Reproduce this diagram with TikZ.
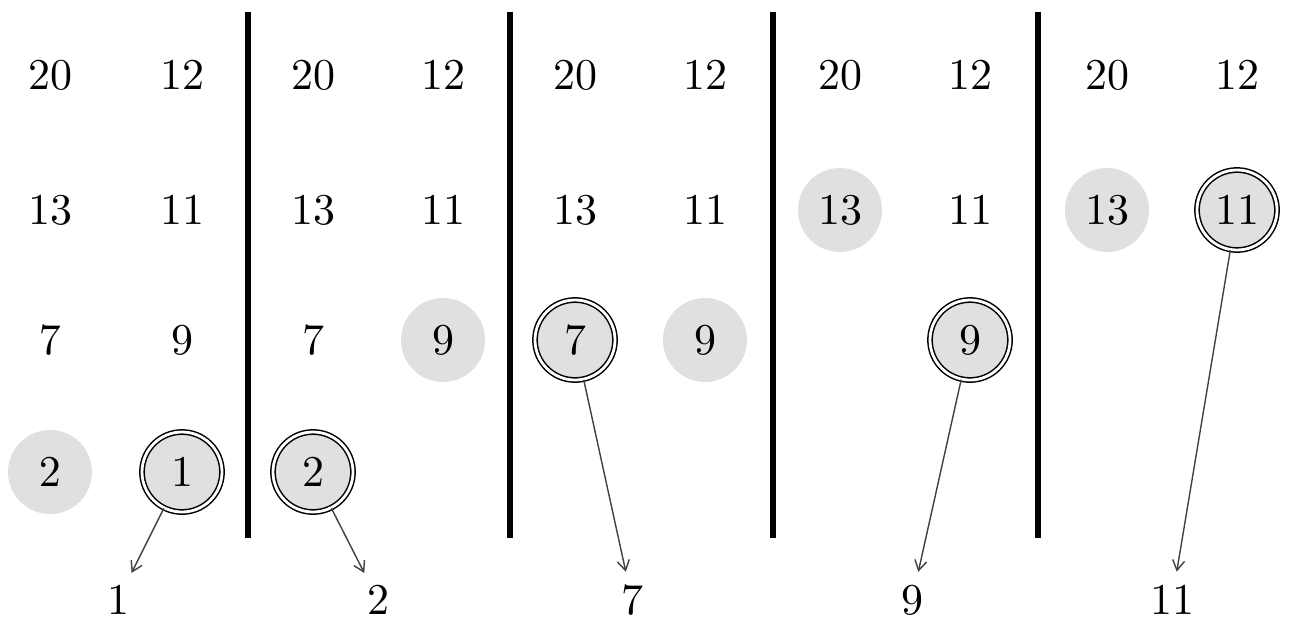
\documentclass[tikz,border=0pt]{standalone}
\usetikzlibrary{arrows.meta}
\font\numfont=cmr10 at 22pt
\begin{document}
\begin{tikzpicture}[x=0.5pt,y=-0.5pt,
  num/.style={font=\numfont, inner sep=0pt},
  hl/.style={num, circle, fill=black!12, minimum size=42pt},
  dbl/.style={num, circle, fill=black!12, draw=black, line width=0.75pt, double=white, double distance=1.4pt, minimum size=40pt},
  bar/.style={line width=3pt},
  arr/.style={draw=black!75, line width=0.7pt, -{Straight Barb[length=5pt,width=6pt]}, shorten >=7pt}]
\useasboundingbox (0,0) rectangle (1289,622);
\fill[white] (0,0) rectangle (1289,622);
% bars
\foreach \x in {248,510,773,1038} \draw[bar] (\x,12) -- (\x,538);
% panel 1
\node[num] (a11) at (50,75) {20};  \node[num] (a12) at (182,75) {12};
\node[num] (a21) at (50,210) {13}; \node[num] (a22) at (182,210) {11};
\node[num] (a31) at (50,340) {7};  \node[num] (a32) at (182,340) {9};
\node[hl]  (a41) at (50,472) {2};  \node[dbl] (a42) at (182,472) {1};
% panel 2
\node[num] (b11) at (313,75) {20};  \node[num] (b12) at (443,75) {12};
\node[num] (b21) at (313,210) {13}; \node[num] (b22) at (443,210) {11};
\node[num] (b31) at (313,340) {7};  \node[hl]  (b32) at (443,340) {9};
\node[dbl] (b41) at (313,472) {2};
% panel 3
\node[num] (c11) at (575,75) {20};  \node[num] (c12) at (705,75) {12};
\node[num] (c21) at (575,210) {13}; \node[num] (c22) at (705,210) {11};
\node[dbl] (c31) at (575,340) {7};  \node[hl]  (c32) at (705,340) {9};
% panel 4
\node[num] (d11) at (840,75) {20};  \node[num] (d12) at (970,75) {12};
\node[hl]  (d21) at (840,210) {13}; \node[num] (d22) at (970,210) {11};
\node[dbl] (d32) at (970,340) {9};
% panel 5
\node[num] (e11) at (1107,75) {20};  \node[num] (e12) at (1237,75) {12};
\node[hl]  (e21) at (1107,210) {13}; \node[dbl] (e22) at (1237,210) {11};
% outputs
\node[num] (o1) at (118,600) {1};
\node[num] (o2) at (378,600) {2};
\node[num] (o3) at (632,600) {7};
\node[num] (o4) at (912,600) {9};
\node[num] (o5) at (1172,600) {11};
\draw[arr] (a42) -- (o1);
\draw[arr] (b41) -- (o2);
\draw[arr] (c31) -- (o3);
\draw[arr] (d32) -- (o4);
\draw[arr] (e22) -- (o5);
\end{tikzpicture}
\end{document}
